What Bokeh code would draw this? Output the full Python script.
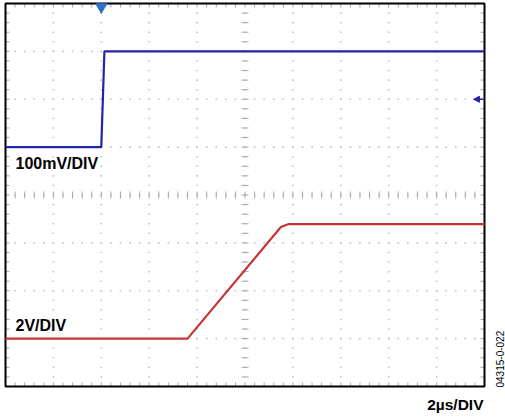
import numpy as np
from bokeh.plotting import figure
from bokeh.models import Range1d, Label, Arrow, NormalHead
from bokeh.embed import file_html
from bokeh.resources import INLINE

# ---- data (time in us, CH1 in mV, CH2 in V) ----
blue_t = [0.0, 4.0, 4.13, 20.0]
blue_mv = [-100, -100, 100, 100]
red_t = [0.0, 7.6, 11.5, 11.8, 20.0]
red_v = [0.0, 0.0, 4.66, 4.78, 4.78]
trigger_t = [4.0]
ch1_ground_mv = 0

# scope screen: 10 x 8 divisions
x_lo, x_hi, x_div = 0.0, 20.0, 2.0          # 2 us/div
b_lo, b_hi, b_div = -600.0, 200.0, 100.0     # 100 mV/div
r_lo, r_hi = -2.0, 14.0                      # 2 V/div

# layout: canvas size and where the scope screen sits on it (pixels)
W, H = 505, 417
SL, SR, ST, SB = 5, 484, 3, 386
xpp = (x_hi - x_lo) / (SR - SL)
bpp = (b_hi - b_lo) / (SB - ST)
rpp = (r_hi - r_lo) / (SB - ST)
TXT_SHIFT = 5  # svg text baseline correction (px)


def px_x(px):
    return x_lo + (px - SL) * xpp


def px_y(py):
    return b_hi - (py - ST) * bpp


p = figure(width=W, height=H, output_backend="svg", toolbar_location=None,
           x_range=Range1d(x_lo - SL * xpp, x_hi + (W - SR) * xpp),
           y_range=Range1d(b_lo - (H - SB) * bpp, b_hi + ST * bpp),
           x_axis_type=None, y_axis_type=None,
           min_border=0)
p.extra_y_ranges = {"red": Range1d(r_lo - (H - SB) * rpp, r_hi + ST * rpp)}
p.xgrid.visible = False
p.ygrid.visible = False
p.outline_line_color = None
p.background_fill_color = "white"
p.border_fill_color = "white"

# ---- graticule (derived from the scope divisions) ----
x_major = np.arange(x_lo, x_hi + 1e-9, x_div)
x_minor = np.arange(x_lo, x_hi + 1e-9, x_div / 5)
y_major = np.arange(b_lo, b_hi + 1e-9, b_div)
y_minor = np.arange(b_lo, b_hi + 1e-9, b_div / 5)
x_mid = (x_lo + x_hi) / 2
y_mid = (b_lo + b_hi) / 2

gx, gy = [], []
for xm in x_major[1:-1]:
    for ym in y_minor[1:-1]:
        gx.append(xm); gy.append(ym)
for ym in y_major[1:-1]:
    for xm in x_minor[1:-1]:
        gx.append(xm); gy.append(ym)
p.scatter(gx, gy, marker="square", size=1.6, color="#c4c4c4", line_width=0)

tick_col = "#a8a8a8"
# center crosshair ticks (+-3.5 px)
p.segment(x0=[x_mid - 3.5 * xpp] * len(y_minor), x1=[x_mid + 3.5 * xpp] * len(y_minor),
          y0=list(y_minor), y1=list(y_minor), line_color=tick_col, line_width=1)
p.segment(x0=list(x_minor), x1=list(x_minor),
          y0=[y_mid - 3.5 * bpp] * len(x_minor), y1=[y_mid + 3.5 * bpp] * len(x_minor),
          line_color=tick_col, line_width=1)
# edge ticks (4 px inward)
ny, nx = len(y_minor), len(x_minor)
p.segment(x0=[x_lo] * ny + [x_hi] * ny, x1=[x_lo + 4 * xpp] * ny + [x_hi - 4 * xpp] * ny,
          y0=list(y_minor) * 2, y1=list(y_minor) * 2, line_color=tick_col, line_width=1)
p.segment(x0=list(x_minor) * 2, x1=list(x_minor) * 2,
          y0=[b_lo] * nx + [b_hi] * nx, y1=[b_lo + 4 * bpp] * nx + [b_hi - 4 * bpp] * nx,
          line_color=tick_col, line_width=1)

# screen border
p.quad(left=[x_lo], right=[x_hi], bottom=[b_lo], top=[b_hi],
       fill_color=None, line_color="black", line_width=2)

# ---- traces ----
p.line(blue_t, blue_mv, line_color="#2424aa", line_width=2.2)
p.line(red_t, red_v, line_color="#c83434", line_width=2.2, y_range_name="red")

# trigger marker and CH1 ground marker
p.scatter(trigger_t, [b_hi - 3.5 * bpp], marker="inverted_triangle", size=11,
          fill_color="#2f72cc", line_color="#2f72cc")
p.add_layout(Arrow(end=NormalHead(size=6, fill_color="#2424aa", line_color="#2424aa"),
                   x_start=x_hi - 1 * xpp, y_start=ch1_ground_mv,
                   x_end=x_hi - 11 * xpp, y_end=ch1_ground_mv,
                   line_color="#2424aa", line_width=1.5))

# ---- texts ----
font = "Liberation Sans"
p.add_layout(Label(x=px_x(15), y=px_y(168 - TXT_SHIFT), text="100mV/DIV", text_font=font,
                   text_font_style="bold", text_font_size="16px", text_color="black",
                   text_baseline="alphabetic"))
p.add_layout(Label(x=px_x(15), y=px_y(330 - TXT_SHIFT), text="2V/DIV", text_font=font,
                   text_font_style="bold", text_font_size="16px", text_color="black",
                   text_baseline="alphabetic"))
p.add_layout(Label(x=px_x(483), y=px_y(409 - TXT_SHIFT), text="2\u00b5s/DIV", text_font=font,
                   text_font_style="bold", text_font_size="15.5px", text_color="black",
                   text_align="right", text_baseline="alphabetic"))
p.add_layout(Label(x=px_x(504 - TXT_SHIFT), y=px_y(387), text="04315-0-022", text_font=font,
                   text_font_size="10px", text_color="black", angle=np.pi / 2,
                   text_align="left", text_baseline="alphabetic"))

open("out.html", "w").write(file_html(p, INLINE))
